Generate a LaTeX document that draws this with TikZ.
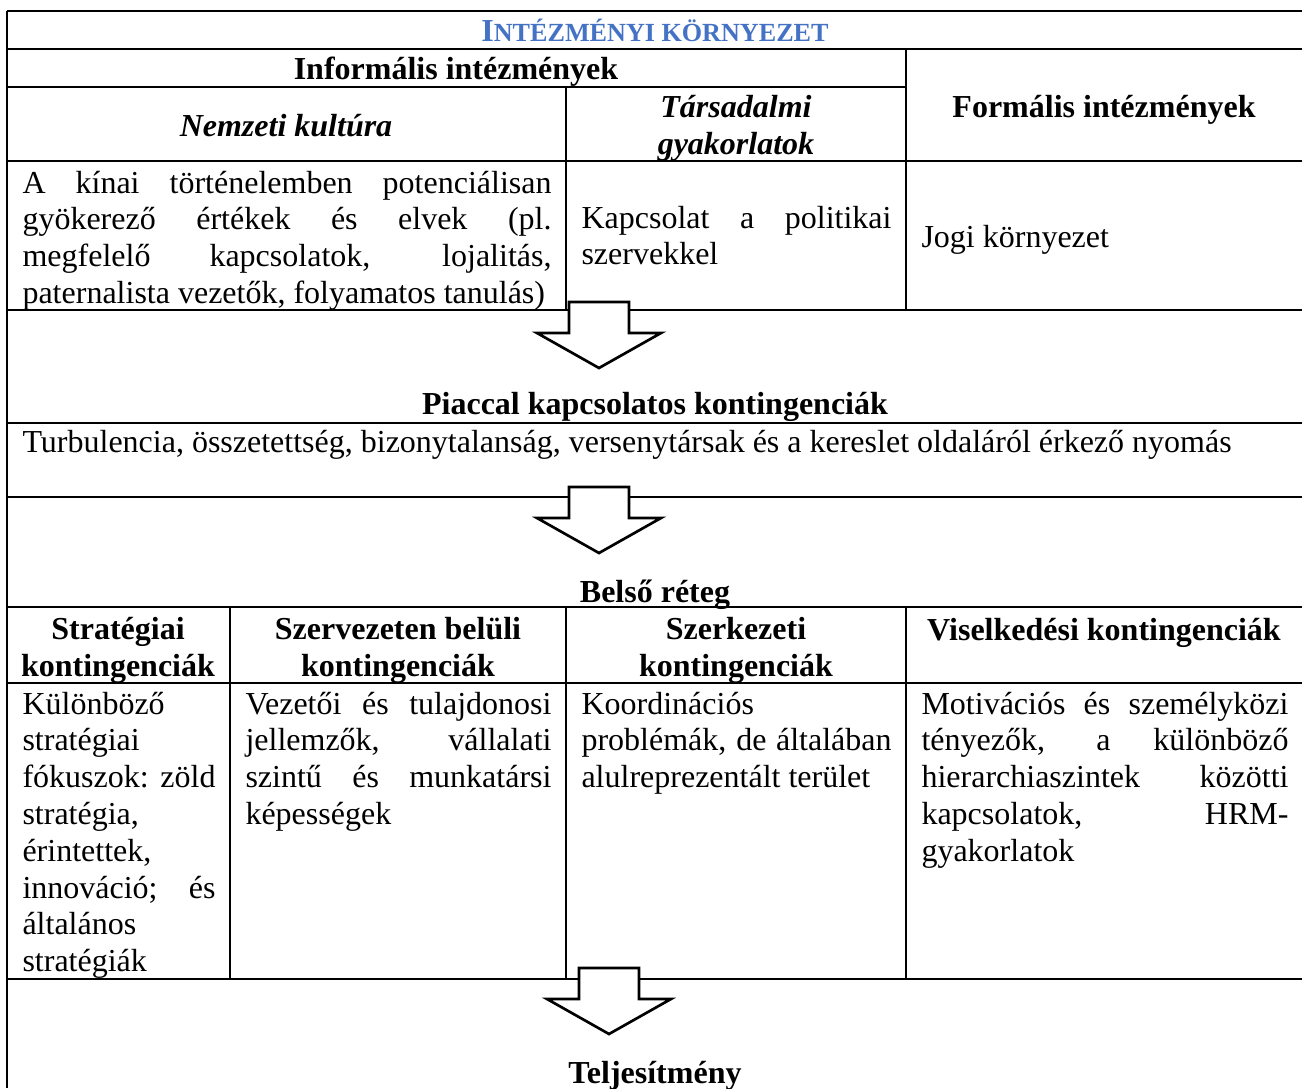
\documentclass[tikz,border=0pt]{standalone}
\usepackage{fontspec}
\setmainfont{Liberation Serif}
\newlength\unitpx
\setlength\unitpx{0.375pt}
\hyphenpenalty=10000
\exhyphenpenalty=10000

\begin{document}
\begin{tikzpicture}[
    x=\unitpx, y=-\unitpx,
    every node/.style={inner sep=0pt, font=\fontsize{12}{13.8}\selectfont},
    rule/.style={line width=1.1pt},
    bodytext/.style={anchor=base west, align=justify},
    linetext/.style={anchor=base west},
    headtext/.style={anchor=base, align=center, font=\fontsize{12}{13.8}\selectfont\bfseries},
    line join=miter
]

% Colors
\definecolor{titleblue}{RGB}{68,114,196}

\useasboundingbox (0,0) rectangle (1302,1088);

% ----------------------------------------------------
% Table rules
% ----------------------------------------------------
\foreach \y in {11,49,161,310,423,497,607,683,979}
  \draw[rule] (7,\y) -- (1302,\y);
\draw[rule] (7,87) -- (906,87);
\draw[rule] (7,11) -- (7,1088);
\draw[rule] (566,87) -- (566,310);
\draw[rule] (906,49) -- (906,310);
\foreach \x in {230,566,906}
  \draw[rule] (\x,607) -- (\x,979);

% ----------------------------------------------------
% Block arrows between the layers
% ----------------------------------------------------
\newcommand{\downblock}[2]{%
\begin{scope}[shift={(#1,#2)}]
\path[fill=white, draw=black, line width=1pt]
(-30,0) -- (30,0) -- (30,31) -- (62,31) -- (0,66) -- (-62,31) -- (-30,31) -- cycle;
\end{scope}
}

\downblock{599}{302}
\downblock{599}{487}
\downblock{609}{968}

% ----------------------------------------------------
% Institutional environment
% ----------------------------------------------------
\node[headtext, text=titleblue] (title) at (655,41)
  {I{\fontsize{9.8}{12}\selectfont NTÉZMÉNYI KÖRNYEZET}};
\node[headtext] (informal) at (456,79) {Informális intézmények};
\node[headtext, font=\fontsize{12}{13.8}\selectfont\bfseries\itshape] (culture) at (286,136) {Nemzeti kultúra};
% two-line headers sit on their last baseline
\node[headtext, font=\fontsize{12}{13.8}\selectfont\bfseries\itshape] (practice) at (736,154) {Társadalmi\\gyakorlatok};
\node[headtext] (formal) at (1104,117) {Formális intézmények};

\node[bodytext, text width=529\unitpx] (culturetext) at (22,193)
  {A kínai történelemben potenciálisan\linebreak
   gyökerező értékek és elvek (pl.\linebreak
   megfelelő kapcsolatok, lojalitás,\linebreak
   paternalista vezetők, folyamatos tanulás)};
\node[bodytext, text width=310\unitpx] (practicetext) at (581,228)
  {Kapcsolat a politikai\linebreak szervekkel};
\node[linetext] (formaltext) at (921,247) {Jogi környezet};

% ----------------------------------------------------
% Market and inner layer
% ----------------------------------------------------
\node[headtext] (market) at (655,414) {Piaccal kapcsolatos kontingenciák};
\node[linetext] (markettext) at (22,452)
  {Turbulencia, összetettség, bizonytalanság, versenytársak és a kereslet oldaláról érkező nyomás};
\node[headtext] (inner) at (655,602) {Belső réteg};

\node[headtext] (strategic) at (118,676) {Stratégiai\\kontingenciák};
\node[headtext] (intraorg) at (398,676) {Szervezeten belüli\\kontingenciák};
\node[headtext] (structural) at (736,676) {Szerkezeti\\kontingenciák};
\node[headtext] (behavioural) at (1104,640) {Viselkedési kontingenciák};

\node[bodytext, text width=193\unitpx] (strategictext) at (22,714)
  {Különböző\linebreak
   stratégiai\linebreak
   fókuszok: zöld\linebreak
   stratégia,\linebreak
   érintettek,\linebreak
   innováció; és\linebreak
   általános\linebreak
   stratégiák};
\node[bodytext, text width=306\unitpx] (intraorgtext) at (245,714)
  {Vezetői és tulajdonosi\linebreak
   jellemzők, vállalati\linebreak
   szintű és munkatársi\linebreak
   képességek};
\node[bodytext, text width=310\unitpx] (structuraltext) at (581,714)
  {Koordinációs\linebreak
   problémák, de általában\linebreak
   alulreprezentált terület};
\node[bodytext, text width=367\unitpx] (behaviouraltext) at (921,714)
  {Motivációs és személyközi\linebreak
   tényezők, a különböző\linebreak
   hierarchiaszintek közötti\linebreak
   kapcsolatok, HRM-\linebreak
   gyakorlatok};

% ----------------------------------------------------
% Outcome
% ----------------------------------------------------
\node[headtext] (performance) at (655,1083) {Teljesítmény};

\end{tikzpicture}
\end{document}
